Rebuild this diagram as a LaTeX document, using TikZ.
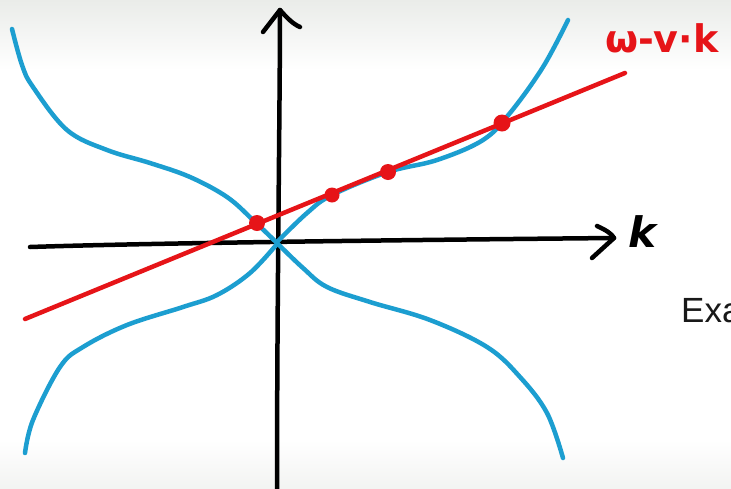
\documentclass[tikz,border=0pt]{standalone}
\usepackage{fontspec}
\setmainfont{Liberation Sans}
\newfontfamily\hand{DejaVu Sans}
\usetikzlibrary{calc}
\definecolor{curveblue}{RGB}{28,158,208}
\definecolor{linered}{RGB}{230,20,24}
\definecolor{topgray}{RGB}{234,236,233}
\tikzset{
  axis/.style={line width=4.5pt, black, line cap=round, line join=round},
  branch/.style={line width=4.5pt, curveblue, line cap=round, line join=round},
  redline/.style={line width=4.5pt, linered, line cap=round},
  dot/.style={circle, fill=linered, inner sep=0pt, minimum size=#1},
  dot/.default=16pt,
}
\begin{document}
\begin{tikzpicture}[x=1pt,y=-1pt]
\useasboundingbox (0,0) rectangle (731,488);
\clip (0,0) rectangle (731,488);
\fill[white] (0,0) rectangle (731,488);
\shade[top color=topgray, bottom color=white] (0,0) rectangle (731,70);
\shade[top color=white, bottom color=topgray!60] (0,440) rectangle (731,488);

% axes
\coordinate (xl) at (30,247);
\coordinate (xr) at (614,238);
\coordinate (yb) at (277,492);
\coordinate (yt) at (280,10);
\draw[axis] (xl) .. controls (150,243) and (400,240) .. (xr);
\draw[axis] (597,226) .. controls (606,230) and (612,234) .. (xr) -- (592,258);
\draw[axis] (yb) .. controls (277,300) and (280,100) .. (yt);
\draw[axis] (263,32) -- (yt) .. controls (287,18) and (293,24) .. (300,27);

% blue branches
\draw[branch] plot[smooth, tension=0.6] coordinates {
  (12,29) (22,65) (33,87) (67,130) (107,150) (150,163) (190,177) (227,197) (253,220) (277,243)};
\draw[branch] plot[smooth, tension=0.6] coordinates {
  (277,243) (303,268) (327,287) (370,302) (430,320) (487,347) (520,377) (547,413) (563,458)};
\draw[branch] plot[smooth, tension=0.6] coordinates {
  (25,453) (33,420) (60,367) (83,347) (127,325) (183,307) (217,295) (250,273) (277,244)};
\draw[branch] plot[smooth, tension=0.6] coordinates {
  (277,242) (307,213) (332,195) (388,172) (437,160) (483,140) (510,113) (543,67) (568,20)};

% red line and intersection dots
\coordinate (rl) at (25,319);
\coordinate (rr) at (625,73);
\draw[redline] (rl) -- (rr);
\node[dot] (p1) at (257,223) {};
\node[dot=15pt] (p2) at (332,195) {};
\node[dot] (p3) at (388,172) {};
\node[dot=17pt] (p4) at (502,123) {};

% labels
\node[anchor=base west, inner sep=0pt, text=linered, font=\hand\bfseries\fontsize{38}{38}\selectfont] (lbl) at (605,52) {ω-v·k};
\node[anchor=base west, inner sep=0pt, font=\hand\bfseries\itshape\fontsize{42}{42}\selectfont] (klbl) at (628,247) {k};
\node[anchor=base west, inner sep=0pt, text=black!90, font=\fontsize{35}{35}\selectfont] (exa) at (681,322) {Exa};
\end{tikzpicture}
\end{document}
